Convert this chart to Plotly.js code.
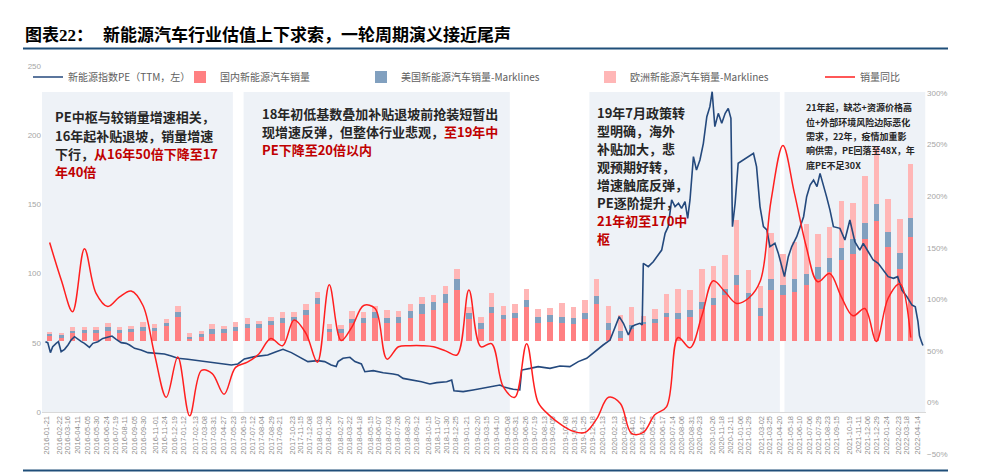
<!DOCTYPE html>
<html>
<head>
<meta charset="utf-8">
<script src="https://cdn.plot.ly/plotly-3.0.1.min.js"></script>
<style>html,body{margin:0;padding:0;background:#fff;}#chart{width:1000px;height:476px;}</style>
</head>
<body>
<div id="chart"></div>
<script>
// ---------------- DATA ----------------
const months = [
 '2016-01','2016-02','2016-03','2016-04','2016-05','2016-06','2016-07','2016-08','2016-09','2016-10','2016-11','2016-12',
 '2017-01','2017-02','2017-03','2017-04','2017-05','2017-06','2017-07','2017-08','2017-09','2017-10','2017-11','2017-12',
 '2018-01','2018-02','2018-03','2018-04','2018-05','2018-06','2018-07','2018-08','2018-09','2018-10','2018-11','2018-12',
 '2019-01','2019-02','2019-03','2019-04','2019-05','2019-06','2019-07','2019-08','2019-09','2019-10','2019-11','2019-12',
 '2020-01','2020-02','2020-03','2020-04','2020-05','2020-06','2020-07','2020-08','2020-09','2020-10','2020-11','2020-12',
 '2021-01','2021-02','2021-03','2021-04','2021-05','2021-06','2021-07','2021-08','2021-09','2021-10','2021-11','2021-12',
 '2022-01','2022-02','2022-03'];
// 万辆
const chinaSales = [
 2.3,1.6,3.6,3.6,3.6,4.7,3.6,4.2,4.7,4.7,6.8,11.3,
 1.1,2.0,3.1,3.9,4.7,6.2,6.0,7.3,8.5,9.3,12.2,17.1,
 4.2,3.6,8.5,8.5,10.9,8.2,8.2,10.9,12.7,14.4,17.8,23.6,
 10.1,5.7,13.2,10.1,10.9,16.0,8.5,9.0,8.5,7.8,10.1,17.1,
 5.0,1.6,5.7,7.8,8.5,11.2,10.4,11.3,14.7,16.7,21.2,26.2,
 19.7,11.6,23.7,21.6,22.8,26.2,28.7,32.2,37.5,40.3,47.3,55.7,
 43.9,33.6,48.4];
const usSales = [
 0.9,1.1,1.1,1.4,1.5,1.9,1.7,1.6,1.9,1.4,1.7,2.3,
 0.9,1.4,2.3,1.6,2.0,1.9,1.7,1.9,2.3,1.9,2.2,3.1,
 1.2,1.9,1.9,2.0,2.6,2.5,2.8,3.1,4.3,3.7,4.3,5.1,
 2.8,2.5,2.8,2.2,2.3,2.9,2.6,2.9,2.8,2.9,3.1,3.9,
 3.6,3.1,1.9,1.1,1.6,1.7,2.5,3.1,3.4,3.4,3.1,4.3,
 2.8,3.9,5.3,4.3,5.9,5.0,5.9,6.4,5.9,7.0,7.8,7.9,
 6.8,7.4,8.7];
const europeSales = [
 1.1,0.9,1.9,1.6,1.4,1.6,1.4,1.2,2.3,1.7,1.9,2.9,
 1.6,1.4,2.6,1.6,2.0,2.5,1.6,2.0,2.8,2.3,2.6,2.8,
 2.3,2.0,3.6,2.9,2.8,3.9,2.8,3.1,3.6,3.1,3.7,4.7,
 3.1,3.1,6.2,4.0,4.2,5.1,3.6,3.6,6.2,5.1,5.7,7.8,
 7.8,7.6,8.2,2.8,5.0,9.1,11.2,9.3,15.5,14.7,15.5,26.0,
 10.5,10.1,21.4,14.7,17.4,23.3,15.0,14.6,21.7,17.1,21.7,26.8,
 15.2,15.8,25.4];
// 销量同比 (%)
const salesYoY = [
 155,118,88,149,106,93,102,108,94,47,5,44,
 -13,31,28,8,34,39,47,62,55,80,67,39,
 114,60,73,94,91,42,54,55,55,54,50,46,
 109,54,57,15,5,57,0,-13,-22,-28,-29,-16,
 5,-1,-30,-29,-12,-4,63,53,84,118,107,96,
 101,118,196,249,203,151,117,125,102,84,91,59,
 101,115,63];
// 新能源指数PE(TTM)
const peDates = [
 '2016-01-17','2016-01-23','2016-01-30','2016-02-05','2016-02-14','2016-02-20','2016-02-27','2016-03-07','2016-03-16','2016-03-24',
 '2016-04-02','2016-04-11','2016-04-20','2016-04-28','2016-05-11','2016-05-20','2016-06-02','2016-06-15','2016-06-28','2016-07-09',
 '2016-07-20','2016-08-02','2016-08-15','2016-08-24','2016-09-06','2016-09-23','2016-10-11','2016-10-28','2016-11-23','2016-12-11',
 '2016-12-28','2017-01-23','2017-02-18','2017-03-17','2017-04-12','2017-04-29','2017-05-17','2017-06-03','2017-06-20','2017-07-17',
 '2017-08-20','2017-09-11','2017-09-29','2017-10-21','2017-11-16','2017-12-03','2017-12-29','2018-01-16','2018-02-02','2018-02-15',
 '2018-02-20','2018-03-05','2018-03-23','2018-04-05','2018-04-22','2018-05-01','2018-05-23','2018-06-18','2018-07-14','2018-07-27',
 '2018-08-09','2018-09-05','2018-09-26','2018-10-18','2018-11-05','2018-12-01','2018-12-14','2018-12-20','2019-01-13','2019-02-08',
 '2019-03-07','2019-04-02','2019-04-19','2019-05-02','2019-05-24','2019-06-10','2019-06-15','2019-07-07','2019-07-28','2019-08-28',
 '2019-09-23','2019-10-19','2019-11-10','2019-12-02','2019-12-28','2020-01-14','2020-02-01','2020-02-14','2020-02-25','2020-03-07',
 '2020-03-20','2020-03-29','2020-04-06','2020-04-19','2020-04-25','2020-04-28','2020-05-11','2020-05-24','2020-06-06','2020-06-15',
 '2020-06-24','2020-07-02','2020-07-11','2020-07-20','2020-07-29','2020-08-06','2020-08-15','2020-08-22','2020-08-28','2020-09-06',
 '2020-09-14','2020-09-23','2020-10-02','2020-10-11','2020-10-19','2020-10-25','2020-11-01','2020-11-10','2020-11-19','2020-11-28',
 '2020-12-06','2020-12-13','2020-12-17','2020-12-24','2021-01-01','2021-01-15','2021-01-27','2021-02-10','2021-02-18','2021-02-27',
 '2021-03-08','2021-03-17','2021-03-25','2021-04-07','2021-04-16','2021-04-25','2021-05-02','2021-05-12','2021-05-21','2021-06-03',
 '2021-06-12','2021-06-21','2021-06-29','2021-07-08','2021-07-17','2021-07-26','2021-08-03','2021-08-12','2021-08-20','2021-08-29',
 '2021-09-07','2021-09-24','2021-10-07','2021-10-20','2021-11-02','2021-11-15','2021-11-24','2021-12-07','2021-12-20','2022-01-02',
 '2022-01-15','2022-01-28','2022-02-11','2022-02-22','2022-03-05','2022-03-18','2022-03-31','2022-04-09','2022-04-16','2022-04-20',
 '2022-04-25','2022-04-29'];
const peValues = [
 50.8,50.1,42.9,47.2,49.6,50.8,43.6,45.3,48.4,52.0,
 54.4,52.5,50.8,49.6,46.7,49.6,50.8,53.2,54.4,54.9,
 52.5,50.1,49.6,48.4,46.0,44.8,42.9,42.4,41.9,40.5,
 38.8,38.1,37.1,36.4,35.6,34.7,34.0,34.7,38.3,40.0,
 41.2,43.6,45.3,42.9,38.8,36.4,37.1,36.4,34.0,32.8,
 36.4,38.8,39.5,36.4,34.7,29.1,29.9,28.4,27.5,26.7,
 24.3,23.1,21.9,20.2,21.2,21.9,23.1,15.4,14.7,15.9,
 17.1,18.3,19.5,17.8,16.4,15.9,30.3,31.5,32.8,31.5,
 33.2,32.8,36.4,38.8,44.8,48.4,52.0,61.7,68.9,64.1,
 55.6,61.7,62.9,64.1,62.9,107.4,105.0,108.6,113.4,117.0,
 129.1,133.9,153.2,148.4,150.8,147.1,152.0,139.9,153.2,184.5,
 174.8,182.1,194.1,213.4,220.6,231.4,206.2,215.8,208.6,215.8,
 219.4,212.2,133.9,150.8,179.7,182.1,184.5,186.9,177.3,148.4,
 133.9,131.5,119.5,121.9,114.6,105.0,97.8,112.2,119.5,126.7,
 133.9,141.1,155.6,164.0,167.6,162.8,172.4,164.0,155.6,145.9,
 133.9,132.7,124.3,138.7,123.1,117.0,121.9,115.8,109.8,107.4,
 102.6,97.8,96.6,97.8,88.1,83.3,77.3,76.0,65.3,55.0,
 51.0,48.0];
const tickLabels = [
 '2016-01-21','2016-02-22','2016-03-16','2016-04-11','2016-05-05','2016-05-30','2016-06-24','2016-07-19','2016-08-11','2016-09-05',
 '2016-09-30','2016-11-01','2016-11-24','2016-12-19','2017-01-12','2017-02-13','2017-03-08','2017-03-31','2017-04-27','2017-05-23',
 '2017-06-19','2017-07-12','2017-08-04','2017-08-29','2017-09-21','2017-10-23','2017-11-15','2017-12-08','2018-01-03','2018-01-26',
 '2018-02-27','2018-03-22','2018-04-18','2018-05-15','2018-06-07','2018-07-03','2018-07-26','2018-08-20','2018-09-12','2018-10-15',
 '2018-11-07','2018-11-30','2018-12-25','2019-01-21','2019-02-20','2019-03-15','2019-04-10','2019-05-08','2019-05-31','2019-06-26',
 '2019-07-19','2019-08-13','2019-09-05','2019-10-08','2019-10-31','2019-11-25','2019-12-18','2020-01-13','2020-02-13','2020-03-09',
 '2020-04-01','2020-04-27','2020-05-22','2020-06-17','2020-07-14','2020-08-06','2020-08-31','2020-09-23','2020-10-26','2020-11-18',
 '2020-12-11','2021-01-06','2021-01-29','2021-03-02','2021-03-25','2021-04-20','2021-05-18','2021-06-10','2021-07-06','2021-07-29',
 '2021-08-23','2021-09-15','2021-10-19','2021-11-11','2021-12-06','2021-12-29','2022-01-24','2022-02-23','2022-03-18','2022-04-14'];

// ---------------- LAYOUT HELPERS ----------------
const ML = 42, MR = 74, MT = 66, MB = 22, W = 1000, H = 476;
const PW = W - ML - MR, PH = H - MT - MB;
const px = x => (x - ML) / PW;
const py = y => (H - MB - y) / PH;
const FONT = 'Noto Sans CJK SC, Noto Sans, sans-serif';
const barX = months.map(m => m + '-28');
const DAY = 86400000;

const traces = [
  {type:'bar', name:'国内新能源汽车销量', x:barX, y:chinaSales, yaxis:'y', xaxis:'x',
   marker:{color:'#ff8082'}, width:14.5*DAY, legend:'legend2'},
  {type:'bar', name:'美国新能源汽车销量-Marklines', x:barX, y:usSales, yaxis:'y', xaxis:'x',
   marker:{color:'#81a0bf'}, width:14.5*DAY, legend:'legend3'},
  {type:'bar', name:'欧洲新能源汽车销量-Marklines', x:barX, y:europeSales, yaxis:'y', xaxis:'x',
   marker:{color:'#ffb6b6'}, width:14.5*DAY, legend:'legend4'},
  {type:'scatter', mode:'lines', name:'新能源指数PE（TTM，左）', x:peDates, y:peValues, yaxis:'y3', xaxis:'x',
   line:{color:'#24497d', width:1.6}, legend:'legend'},
  {type:'scatter', mode:'lines', name:'销量同比', x:barX, y:salesYoY, yaxis:'y2', xaxis:'x',
   line:{color:'#ff1f1f', width:1.5, shape:'spline', smoothing:1}, legend:'legend5'}
];

function leg(x){
  return {x:px(x), y:py(77), xanchor:'left', yanchor:'middle', orientation:'h',
          bgcolor:'rgba(0,0,0,0)', borderwidth:0, itemwidth:30,
          font:{family:FONT, size:10, color:'#606060'}};
}

const regionShapes = [
  ['2016-01-08','2017-05-21'],
  ['2017-06-18','2019-05-15'],
  ['2019-12-09','2021-04-20'],
  ['2021-05-02','2022-05-05']
].map(r => ({type:'rect', xref:'x', yref:'paper', x0:r[0], x1:r[1], y0:py(413), y1:py(92),
             fillcolor:'#eef2f7', line:{width:0}, layer:'below'}));

const shapes = regionShapes.concat([
  {type:'line', xref:'paper', yref:'paper', x0:px(23), x1:px(948), y0:py(48.5), y1:py(48.5),
   line:{color:'#1f4e79', width:2.2}},
  {type:'line', xref:'paper', yref:'paper', x0:px(23), x1:px(948), y0:py(470.5), y1:py(470.5),
   line:{color:'#1f4e79', width:2.2}}
]);

const RED = '#c00000', BLK = '#262626';
function block(lines, x, y0, dy, size){
  return lines.map((t, i) => ({xref:'paper', yref:'paper', x:px(x), y:py(y0 + i*dy),
    xanchor:'left', yanchor:'middle', showarrow:false, align:'left',
    text:'<b>' + t + '</b>', font:{family:FONT, size:size, color:BLK}}));
}
const r = s => '<span style="color:' + RED + '">' + s + '</span>';

const annotations = [
  {xref:'paper', yref:'paper', x:px(23), y:py(33.5), xanchor:'left', yanchor:'middle', showarrow:false,
   text:'<b>图表<span style="font-family:Liberation Serif">22</span>：</b>', font:{family:FONT, size:17, color:'#000'}},
  {xref:'paper', yref:'paper', x:px(101), y:py(33.5), xanchor:'left', yanchor:'middle', showarrow:false,
   text:'<b>新能源汽车行业估值上下求索，一轮周期演义接近尾声</b>', font:{family:FONT, size:17, color:'#000'}}
].concat(
  block(['PE中枢与较销量增速相关，', '16年起补贴退坡，销量增速', '下行，' + r('从16年50倍下降至17'), r('年40倍')], 53, 116.7, 18.3, 13),
  block(['18年初低基数叠加补贴退坡前抢装短暂出', '现增速反弹，但整体行业悲观，' + r('至19年中'), r('PE下降至20倍以内')], 259.5, 113.3, 18.3, 13),
  block(['19年7月政策转', '型明确，海外', '补贴加大，悲', '观预期好转，', '增速触底反弹，', 'PE逐阶提升，', r('21年初至170中'), r('枢')], 594.5, 112.7, 18.0, 13),
  block(['21年起，缺芯+资源价格高', '位+外部环境风险边际恶化', '需求，22年，疫情加重影', '响供需，PE回落至48X，年', '底PE不足30X'], 804, 108, 14.3, 9)
);

const layout = {
  width:W, height:H,
  margin:{l:ML, r:MR, t:MT, b:MB, pad:0},
  paper_bgcolor:'#ffffff', plot_bgcolor:'rgba(0,0,0,0)',
  barmode:'stack', bargap:0,
  showlegend:true,
  legend:leg(28), legend2:leg(180), legend3:leg(361), legend4:leg(590), legend5:leg(820),
  xaxis:{type:'date', range:['2016-01-08','2022-05-07'], domain:[0,1], anchor:'y',
         tickmode:'array', tickvals:tickLabels, ticktext:tickLabels, tickangle:-90,
         tickfont:{family:'Liberation Sans, Arial, sans-serif', size:7.5, color:'#8c8c8c'},
         ticks:'', showgrid:false, zeroline:false, showline:true, linecolor:'#d9d9d9', linewidth:1},
  yaxis:{domain:[py(412), 1], range:[-33.0, 127.9], visible:false, showgrid:false, zeroline:false, fixedrange:true},
  yaxis3:{overlaying:'y', side:'left', anchor:'x', range:[0,250], tickmode:'linear', tick0:0, dtick:50,
          tickfont:{family:'Liberation Sans, Arial, sans-serif', size:8, color:'#a6a6a6'},
          showgrid:false, zeroline:false, showline:false, ticks:''},
  yaxis2:{domain:[0, py(93)], range:[-50,300], side:'right', anchor:'x', tickmode:'linear', tick0:-50, dtick:50,
          ticksuffix:'%', tickfont:{family:'Liberation Sans, Arial, sans-serif', size:8, color:'#a6a6a6'},
          showgrid:false, zeroline:false, showline:false, ticks:''},
  shapes:shapes,
  annotations:annotations
};

Plotly.newPlot('chart', traces, layout, {staticPlot:true, displayModeBar:false});
</script>
</body>
</html>
